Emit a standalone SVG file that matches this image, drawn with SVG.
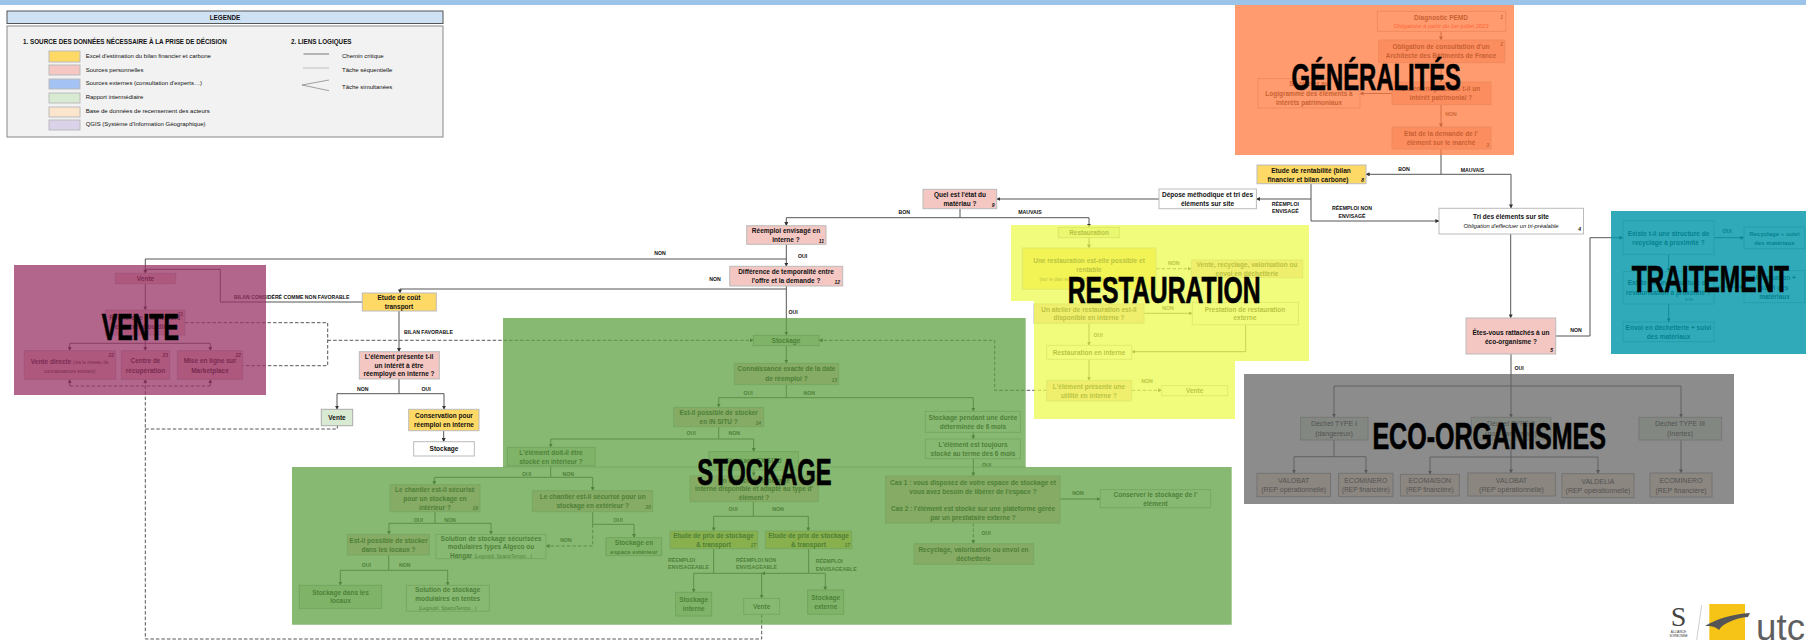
<svg xmlns="http://www.w3.org/2000/svg" width="1806" height="640" viewBox="0 0 1806 640">
<defs>
<marker id="a" markerUnits="userSpaceOnUse" markerWidth="4" markerHeight="4" refX="3.6" refY="2" orient="auto"><path d="M0,0L4,2L0,4z" fill="#333"/></marker>
</defs>
<style>
text{font-family:"Liberation Sans",Arial,sans-serif;fill:#111}
.t{font-size:6.5px;font-weight:700;text-anchor:middle}
.r{font-size:7px;font-weight:400;text-anchor:middle}
.s{font-size:4.8px;font-weight:400;text-anchor:middle}
.n{font-size:5px;font-style:italic;font-weight:700;text-anchor:end}
.i{font-size:5.8px;font-style:italic;font-weight:400;text-anchor:middle}
.l{font-size:5.2px;font-weight:700;text-anchor:middle}
.ls{font-size:5.2px;font-weight:700;text-anchor:start}
.g{font-size:6px;font-weight:400}
.h{font-size:6.3px;font-weight:700}
.H{font-family:"Liberation Sans Narrow","Liberation Sans",Arial,sans-serif;font-size:37px;font-weight:700;fill:#000;stroke:#000;stroke-width:.7px}
rect.w{fill:#fff;stroke:#bbb;stroke-width:1}
rect.p{fill:#f4c7c3;stroke:#bbb;stroke-width:1}
rect.y{fill:#ffd966;stroke:#bbb;stroke-width:1}
rect.v{fill:#d9ead3;stroke:#aaa;stroke-width:1}
rect.o{fill:#fce5cd;stroke:#999;stroke-width:1}
.c path{fill:none;stroke:#555;stroke-width:1}
.c .e{marker-end:url(#a)}
.c .d{stroke-dasharray:3.5 2;stroke:#444;stroke-width:.9}
</style>

<rect id="top-bar" x="0" y="0" width="1806" height="5" fill="#9cc3e8"/>

<g id="legend">
<rect x="7" y="11" width="436" height="12.5" fill="#cfe2f3" stroke="#555" stroke-width="1"/>
<text class="h" x="225" y="20" text-anchor="middle">LEGENDE</text>
<rect x="7" y="26" width="436" height="111" fill="#f2f2f2" stroke="#888" stroke-width="1"/>
<text class="h" x="23" y="44.2">1. SOURCE DES DONNÉES NÉCESSAIRE À LA PRISE DE DÉCISION</text>
<rect x="49" y="51" width="31" height="11" fill="#ffd966" stroke="#bbb"/><text class="g" x="85.7" y="57.8">Excel d'estimation du bilan financier et carbone</text>
<rect x="49" y="65" width="31" height="10" fill="#f4c7c3" stroke="#bbb"/><text class="g" x="85.7" y="71.5">Sources personnelles</text>
<rect x="49" y="79" width="31" height="10" fill="#a4c2f4" stroke="#bbb"/><text class="g" x="85.7" y="85.2">Sources externes (consultation d'experts…)</text>
<rect x="49" y="93" width="31" height="10" fill="#d9ead3" stroke="#bbb"/><text class="g" x="85.7" y="99.2">Rapport intermédiaire</text>
<rect x="49" y="107" width="31" height="10" fill="#fce5cd" stroke="#bbb"/><text class="g" x="85.7" y="112.7">Base de données de recensement des acteurs</text>
<rect x="49" y="120" width="31" height="10" fill="#d9d2e9" stroke="#bbb"/><text class="g" x="85.7" y="126.2">QGIS (Système d'Information Géographique)</text>
<text class="h" x="291" y="44.2">2. LIENS LOGIQUES</text>
<path d="M303.5,54H329" stroke="#444" stroke-width=".7" fill="none"/>
<path d="M303.5,68H329" stroke="#777" stroke-width=".8" stroke-dasharray="1 1" fill="none"/>
<path d="M329,80L302,85L329,90.7" stroke="#666" stroke-width=".6" fill="none"/>
<text class="g" x="342" y="57.9">Chemin critique</text>
<text class="g" x="342" y="71.5">Tâche séquentielle</text>
<text class="g" x="342" y="88.9">Tâche simultanées</text>
</g>

<g id="connectors" class="c">
<path class="e" d="M1441,31V40"/><path class="e" d="M1441,62.7V82"/><path class="e" d="M1392,93.5H1360"/><path class="e" d="M1441,104.7V127"/>
<path class="e" d="M1441,149V174.3H1366"/><path class="e" d="M1441,174.3H1511V208"/>
<path class="e" d="M1311,183.7V199H1256.4"/><path class="e" d="M1311,199V221H1439"/>
<path class="e" d="M1159,199H996.7"/>
<path class="e" d="M960,208.7V217.7H786.3V225.7"/><path class="e" d="M960,217.7H1089V227.3"/>
<path class="e" d="M786.3,244.3V266.3"/><path class="e" d="M786.3,259H145.3V273.3"/>
<path class="e" d="M786.3,289H400V293"/><path class="e" d="M786.3,286V335.3"/>
<path class="e" d="M362.3,302H220.3V269.3H145.3V273.3"/>
<path class="e" d="M399,311V351.7"/><path class="e" d="M399,379V393.7H337V409.3"/><path class="e" d="M399,393.7H444V409.3"/><path class="e" d="M443.7,430.7V441.7"/>
<path class="e" d="M145.3,283.7V310"/><path class="e" d="M145.3,335V343.3H69.7V350.7"/><path class="e" d="M145.3,343.3V350.7"/><path class="e" d="M145.3,343.3H210.3V350.7"/>
<path class="d e" d="M69.7,386V379.3"/><path class="d e" d="M210.3,386V379.3"/><path class="d" d="M69.7,386H210.3"/>
<path class="d e" d="M761.7,614.3V639H145.3V379.3"/>
<path class="d" d="M145.3,429H337.3V425.7"/>
<path class="d" d="M185,322.7H327.7V365.7H242.7"/>
<path class="d e" d="M327.7,340.3H753.3"/>
<path class="e" d="M786.3,345.7V363.3"/><path class="e" d="M786.3,384.7V397.7H718.7V407.3"/><path class="e" d="M786.3,397.7H973.3V411.3"/>
<path class="e" d="M718.7,426.7V439H550.7V447.3"/><path class="e" d="M718.7,439H753.7V451.7"/>
<path class="e" d="M753.7,470V476"/><path class="e" d="M753.3,501.7V516.3H713.7V531"/><path class="e" d="M753.3,516.3H808.3V531"/>
<path class="e" d="M713.7,548.7V573.3H693.7V592.3"/><path class="e" d="M713.7,573.3H761.7V598.3"/><path class="e" d="M808.7,548.7V573.3H761.7"/><path class="e" d="M808.7,573.3H825.3V590"/>
<path class="e" d="M550.7,465.7V477.3H434.3V484.7"/><path class="e" d="M550.7,477.3H592.7V490.7"/>
<path class="e" d="M435,511.7V523.3H389V534.3"/><path class="e" d="M435,523.3H491V534.3"/>
<path class="e" d="M592.7,511.7V524.3H634V537.7"/><path class="d e" d="M592.7,524.3V546H546"/>
<path class="e" d="M388.7,555V570.3H340.3V585.3"/><path class="e" d="M388.7,570.3H447.7V585.3"/>
<path class="e" d="M973.3,432.3V439"/><path class="e" d="M973.3,458.7V476"/><path class="e" d="M1060,499H1100.3"/><path class="d e" d="M973.3,523V543.7"/>
<path class="e" d="M1089,237.7V248"/><path class="d e" d="M1156,268.7H1191.3"/><path class="e" d="M1089,289.3V304"/><path class="e" d="M1144,313.3H1192.3"/>
<path class="e" d="M1089,323.3V345.3"/><path class="e" d="M1245.7,324.7V351.7H1131.7"/><path class="e" d="M1089,359.3V380.3"/>
<path class="d e" d="M1131.7,390.3H1161.7"/><path class="d e" d="M1046.7,390.3H994.7V340.3H819"/>
<path class="e" d="M1510.7,234V318"/><path class="e" d="M1555.7,336H1590V237.7H1623"/>
<path class="e" d="M1714,237.7H1744"/><path class="e" d="M1668.7,254.3V271.7"/><path class="e" d="M1714,287H1744"/><path class="e" d="M1668.7,304V322"/>
<path class="e" d="M1511,354V417.3"/><path class="e" d="M1511,386H1334V417.3"/><path class="e" d="M1511,386H1681V417.3"/>
<path class="e" d="M1334,440V456.7H1294V473.3"/><path class="e" d="M1334,456.7H1366V473.3"/>
<path class="e" d="M1511,440V473"/><path class="e" d="M1511,457H1430V474.3"/><path class="e" d="M1511,457H1598V473.7"/>
<path class="e" d="M1681,440V473"/>
</g>

<g id="n-diagnostic"><rect class="w" x="1377.4" y="11.3" width="128.4" height="20"/><text class="t" x="1441" y="19.5">Diagnostic PEMD</text><text class="i" x="1441" y="28" style="fill:#f22">Obligatoire à partir du 1er juillet 2023</text><text class="n" x="1503" y="19">1</text></g>
<g id="n-abf"><rect class="p" x="1378.6" y="40" width="126.4" height="22.7"/><text class="t" x="1441" y="49">Obligation de consultation d'un</text><text class="t" x="1441" y="58">Architecte des Bâtiments de France</text><text class="n" x="1503" y="46">2</text></g>
<g id="n-interet"><rect class="p" x="1392" y="82" width="99" height="22.7"/><text class="t" x="1441" y="91">L'élément présente t-il un</text><text class="t" x="1441" y="100">intérêt patrimonial ?</text></g>
<g id="n-referer"><rect class="w" x="1258" y="78.7" width="102" height="29.3"/><text class="t" x="1309" y="86">Se référer au</text><text class="t" x="1309" y="95.5">Logigramme des éléments à</text><text class="t" x="1309" y="104.5">intérêts patrimoniaux</text></g>
<g id="n-etat"><rect class="p" x="1392" y="127" width="99" height="22"/><text class="t" x="1441" y="136">Etat de la demande de l'</text><text class="t" x="1441" y="145">élément sur le marché</text><text class="n" x="1489" y="147">3</text></g>
<g id="n-rentabilite"><rect class="y" x="1257" y="165" width="109" height="18.7"/><text class="t" x="1311" y="172.5">Etude de rentabilité (bilan</text><text class="t" x="1308" y="181.5">financier et bilan carbone)</text><text class="n" x="1364" y="181.5">8</text></g>
<g id="n-depose"><rect class="w" x="1159" y="189" width="97.4" height="19.7"/><text class="t" x="1207.5" y="197">Dépose méthodique et tri des</text><text class="t" x="1207.5" y="206">éléments sur site</text></g>
<g id="n-tri"><rect class="w" x="1439" y="208.3" width="144.5" height="25.7"/><text class="t" x="1511" y="219">Tri des éléments sur site</text><text class="i" x="1511" y="228">Obligation d'effectuer un tri-préalable</text><text class="n" x="1581" y="230.5">4</text></g>
<g id="n-eco"><rect class="p" x="1466" y="318" width="89.7" height="36"/><text class="t" x="1511" y="334.5">Êtes-vous rattachés à un</text><text class="t" x="1511" y="343.5">éco-organisme ?</text><text class="n" x="1553" y="351.5">5</text></g>
<g id="n-recycl-q"><rect class="w" x="1623" y="220.7" width="91" height="33.6"/><text class="t" x="1668.5" y="235.5">Existe t-il une structure de</text><text class="t" x="1668.5" y="244.5">recyclage à proximité ?</text></g>
<g id="n-recycl"><rect class="w" x="1744" y="227" width="60.7" height="21.7"/><text class="t" x="1774.5" y="235.5" style="font-size:6px">Recyclage + suivi</text><text class="t" x="1774.5" y="244.5" style="font-size:6px">des matériaux</text></g>
<g id="n-valo-q"><rect class="w" x="1623" y="271.7" width="91" height="32.3"/><text class="t" x="1668.5" y="285">Existe t-il une structure de</text><text class="t" x="1668.5" y="295">revalorisation à proximité ?</text><text class="s" x="1689" y="301" style="font-size:3.5px">NON</text></g>
<g id="n-valo"><rect class="w" x="1744" y="270.7" width="60.7" height="32"/><text class="t" x="1774.5" y="280">Valorisation +</text><text class="t" x="1774.5" y="289.5">suivi des</text><text class="t" x="1774.5" y="298.5">matériaux</text></g>
<g id="n-dechetterie"><rect class="w" x="1623" y="322" width="91" height="19.7"/><text class="t" x="1668.5" y="330">Envoi en déchetterie + suivi</text><text class="t" x="1668.5" y="339">des matériaux</text></g>

<g id="n-typeI"><rect class="v" x="1300.7" y="417.3" width="67.3" height="22.7"/><text class="r" x="1334" y="426">Déchet TYPE I</text><text class="r" x="1334" y="435.5">(dangereux)</text></g>
<g id="n-typeII"><rect class="v" x="1471.4" y="417.3" width="79.6" height="22.7"/><text class="r" x="1511" y="426">Déchet TYPE II</text><text class="r" x="1511" y="435.5">(non-dangereux)</text></g>
<g id="n-typeIII"><rect class="v" x="1639" y="417.3" width="82.7" height="22.7"/><text class="r" x="1680" y="426">Déchet TYPE III</text><text class="r" x="1680" y="435.5">(Inertes)</text></g>
<g id="n-valobat1"><rect class="o" x="1257" y="473.3" width="73.5" height="23.4"/><text class="r" x="1293.7" y="483">VALOBAT</text><text class="r" x="1293.7" y="492">(REP opérationnelle)</text></g>
<g id="n-ecominero1"><rect class="o" x="1338.6" y="473.3" width="54.4" height="23.4"/><text class="r" x="1365.8" y="483">ECOMINERO</text><text class="r" x="1365.8" y="492" style="font-size:6.5px">(REP financière)</text></g>
<g id="n-ecomaison"><rect class="o" x="1400.4" y="474.3" width="58.9" height="21.7"/><text class="r" x="1429.8" y="482.5">ECOMAISON</text><text class="r" x="1429.8" y="491.5" style="font-size:6.5px">(REP financière)</text></g>
<g id="n-valobat2"><rect class="o" x="1467.8" y="473" width="87.6" height="23"/><text class="r" x="1511.5" y="482.5">VALOBAT</text><text class="r" x="1511.5" y="491.5">(REP opérationnelle)</text></g>
<g id="n-valdelia"><rect class="o" x="1562" y="473.7" width="72" height="24"/><text class="r" x="1598" y="483.5">VALDELIA</text><text class="r" x="1598" y="492.5">(REP opérationnelle)</text></g>
<g id="n-ecominero2"><rect class="o" x="1650" y="473" width="62" height="24"/><text class="r" x="1681" y="483">ECOMINERO</text><text class="r" x="1681" y="492.5">(REP financière)</text></g>

<g id="n-restauration"><rect class="v" x="1058.3" y="227.3" width="61" height="10.4"/><text class="t" x="1089" y="235">Restauration</text></g>
<g id="n-resto-q"><rect class="y" x="1022.3" y="248" width="133.7" height="41.3"/><text class="t" x="1089" y="262.5">Une restauration est-elle possible et</text><text class="t" x="1089" y="271.5">rentable</text><text class="s" x="1089" y="280.5">(sur le plan économique et environnemental ?)</text></g>
<g id="n-vente-recyc"><rect class="p" x="1191.3" y="260" width="111.4" height="17.7"/><text class="t" x="1247" y="267">Vente, recyclage, valorisation ou</text><text class="t" x="1247" y="275.5">envoi en déchetterie</text></g>
<g id="n-atelier"><rect class="p" x="1034" y="304" width="110" height="19.3"/><text class="t" x="1089" y="311.5">Un atelier de restauration est-il</text><text class="t" x="1089" y="320">disponible en interne ?</text></g>
<g id="n-prestation"><rect class="w" x="1192.3" y="302.3" width="106" height="22.4"/><text class="t" x="1245" y="311.5">Prestation de restauration</text><text class="t" x="1245" y="320">externe</text></g>
<g id="n-resto-int"><rect class="w" x="1046.7" y="345.3" width="85" height="14"/><text class="t" x="1089" y="354.5">Restauration en interne</text></g>
<g id="n-utilite"><rect class="p" x="1046.7" y="380.3" width="85" height="20.7"/><text class="t" x="1089" y="388.5">L'élément présente une</text><text class="t" x="1089" y="397.5">utilité en interne ?</text></g>
<g id="n-vente-r"><rect class="w" x="1161.7" y="385.7" width="66" height="10"/><text class="t" x="1194.7" y="393">Vente</text></g>

<g id="n-quel"><rect class="p" x="923" y="189.3" width="73.7" height="19.4"/><text class="t" x="960" y="196.8">Quel est l'état du</text><text class="t" x="960" y="206">matériau ?</text><text class="n" x="994.5" y="206.5">9</text></g>
<g id="n-reemploi"><rect class="p" x="746.7" y="225.7" width="79.3" height="18.6"/><text class="t" x="786" y="233">Réemploi envisagé en</text><text class="t" x="786" y="242">interne ?</text><text class="n" x="824" y="242.5">11</text></g>
<g id="n-diff"><rect class="p" x="729.7" y="266.3" width="113" height="19.7"/><text class="t" x="786" y="273.8">Différence de temporalité entre</text><text class="t" x="786" y="283">l'offre et la demande ?</text><text class="n" x="840" y="284">12</text></g>
<g id="n-cout"><rect class="y" x="362.3" y="293" width="74" height="18"/><text class="t" x="399" y="299.5">Etude de coût</text><text class="t" x="399" y="308.5">transport</text></g>
<g id="n-interet2"><rect class="p" x="359.3" y="351.7" width="80" height="27.3"/><text class="t" x="399" y="359">L'élément présente t-il</text><text class="t" x="399" y="367.5">un intérêt à être</text><text class="t" x="399" y="376">réemployé en interne ?</text></g>
<g id="n-vente-v"><rect class="v" x="321.3" y="409.3" width="31.4" height="16.4"/><text class="t" x="337" y="420">Vente</text></g>
<g id="n-conservation"><rect class="y" x="408.7" y="409.3" width="70.3" height="21.4"/><text class="t" x="444" y="417.5">Conservation pour</text><text class="t" x="444" y="426.5">réemploi en interne</text></g>
<g id="n-stockage-w"><rect class="w" x="413.7" y="441.7" width="60.6" height="14.3"/><text class="t" x="444" y="451">Stockage</text></g>

<g id="n-vente"><rect class="p" x="115.3" y="273.3" width="60.4" height="10.4"/><text class="t" x="145.5" y="281">Vente</text></g>
<g id="n-vente-choix"><rect class="p" x="105.3" y="310" width="79.7" height="25"/><text class="t" x="145" y="320">Recherche d'acheteurs</text><text class="t" x="145" y="329">en interne ou direct</text><text class="n" x="183" y="316">21</text></g>
<g id="n-vente-directe"><rect class="p" x="24.3" y="350.7" width="91.4" height="28.6"/><text class="t" x="69.7" y="363.5">Vente directe <tspan class="s">(via le réseau de</tspan></text><text class="s" x="69.7" y="372.5">connaissances existant)</text><text class="n" x="114" y="357">22</text></g>
<g id="n-centre"><rect class="p" x="121.3" y="350.7" width="48.4" height="28.6"/><text class="t" x="145.5" y="363">Centre de</text><text class="t" x="145.5" y="372.5">récupération</text><text class="n" x="168" y="357">23</text></g>
<g id="n-marketplace"><rect class="p" x="177.3" y="350.7" width="65.4" height="28.6"/><text class="t" x="210" y="363">Mise en ligne sur</text><text class="t" x="210" y="372.5">Marketplace</text><text class="n" x="241" y="357">22</text></g>

<g id="n-stockage"><rect class="v" x="753.3" y="335.3" width="65.7" height="10.4"/><text class="t" x="786" y="343">Stockage</text></g>
<g id="n-connaissance"><rect class="p" x="734.3" y="363.3" width="104.4" height="21.4"/><text class="t" x="786.5" y="371">Connaissance exacte de la date</text><text class="t" x="786.5" y="380.5">de réemploi ?</text><text class="n" x="837" y="382">13</text></g>
<g id="n-insitu"><rect class="p" x="673.7" y="407.3" width="90" height="19.4"/><text class="t" x="718.7" y="415">Est-il possible de stocker</text><text class="t" x="718.7" y="424">en IN SITU ?</text><text class="n" x="761" y="424.5">14</text></g>
<g id="n-pendant"><rect class="w" x="925.3" y="411.3" width="95" height="21"/><text class="t" x="973" y="419.5">Stockage pendant une durée</text><text class="t" x="973" y="428.5">déterminée de 6 mois</text></g>
<g id="n-toujours"><rect class="w" x="925.3" y="439" width="95" height="19.7"/><text class="t" x="973" y="446.5">L'élément est toujours</text><text class="t" x="973" y="455.5">stocké au terme des 6 mois</text></g>
<g id="n-cas"><rect class="p" x="885.7" y="476" width="174.3" height="47"/><text class="t" x="973" y="484.5">Cas 1 : vous disposez de votre espace de stockage et</text><text class="t" x="973" y="493.5">vous avez besoin de libérer de l'espace ?</text><text class="t" x="973" y="510.5">Cas 2 : l'élément est stocké sur une plateforme gérée</text><text class="t" x="973" y="519.5">par un prestataire externe ?</text></g>
<g id="n-conserver"><rect class="w" x="1100.3" y="489.7" width="110.4" height="18"/><text class="t" x="1155.5" y="497">Conserver le stockage de l'</text><text class="t" x="1155.5" y="505.5">élément</text></g>
<g id="n-recyclage-s"><rect class="p" x="914" y="543.7" width="119.7" height="20.6"/><text class="t" x="973.5" y="552">Recyclage, valorisation ou envoi en</text><text class="t" x="973.5" y="560.5">déchetterie</text></g>
<g id="n-interieur"><rect class="v" x="507.3" y="447.3" width="87.7" height="18.4"/><text class="t" x="551" y="454.5">L'élément doit-il être</text><text class="t" x="551" y="463.5">stocké en intérieur ?</text></g>
<g id="n-exsitu"><rect class="v" x="709" y="451.7" width="89.3" height="18.3"/><text class="t" x="753.7" y="462.5">Stockage EX SITU</text></g>
<g id="n-espace"><rect class="p" x="690" y="476" width="128.3" height="25.7"/><text class="t" x="754" y="482.5">Un espace de stockage</text><text class="t" x="754" y="491">interne disponible et adapté au type d'</text><text class="t" x="754" y="499.5">élément ?</text></g>
<g id="n-prix1"><rect class="y" x="670" y="531" width="87.7" height="17.7"/><text class="t" x="713.5" y="537.8">Etude de prix de stockage</text><text class="t" x="713.5" y="546.5">&amp; transport</text><text class="n" x="756" y="546.5">17</text></g>
<g id="n-prix2"><rect class="y" x="765.3" y="531" width="86.4" height="17.7"/><text class="t" x="808.5" y="537.8">Etude de prix de stockage</text><text class="t" x="808.5" y="546.5">&amp; transport</text><text class="n" x="850" y="546.5">17</text></g>
<g id="n-st-interne"><rect class="v" x="675.7" y="592.3" width="36" height="23.7"/><text class="t" x="693.7" y="602">Stockage</text><text class="t" x="693.7" y="610.5">interne</text></g>
<g id="n-vente-s"><rect class="w" x="743.7" y="598.3" width="36" height="16"/><text class="t" x="761.7" y="608.5">Vente</text></g>
<g id="n-st-externe"><rect class="v" x="807.7" y="590" width="36" height="24.3"/><text class="t" x="825.7" y="600">Stockage</text><text class="t" x="825.7" y="609">externe</text></g>
<g id="n-ch-int"><rect class="p" x="390" y="484.7" width="90" height="27"/><text class="t" x="435" y="491.5">Le chantier est-il sécurisé</text><text class="t" x="435" y="500.5">pour un stockage en</text><text class="t" x="435" y="509.5">intérieur ?</text><text class="n" x="478" y="509.5">19</text></g>
<g id="n-ch-ext"><rect class="p" x="532.3" y="490.7" width="120.4" height="21"/><text class="t" x="592.7" y="498.5">Le chantier est-il sécurisé pour un</text><text class="t" x="592.7" y="507.5">stockage en extérieur ?</text><text class="n" x="651" y="509">20</text></g>
<g id="n-locaux"><rect class="p" x="347.3" y="534.3" width="82" height="20.7"/><text class="t" x="388.5" y="542.5">Est-il possible de stocker</text><text class="t" x="388.5" y="551.5">dans les locaux ?</text></g>
<g id="n-modulaire"><rect class="w" x="436" y="534.3" width="110" height="24.4"/><text class="t" x="491" y="540.5">Solution de stockage sécurisées</text><text class="t" x="491" y="549">modulaires types Algeco ou</text><text class="t" x="491" y="557.5">Hangar <tspan class="s">(Legoupil, SpacioTempo…)</tspan></text></g>
<g id="n-st-ext"><rect class="v" x="606" y="537.7" width="55.7" height="18"/><text class="t" x="634" y="544.8">Stockage en</text><text class="t" x="634" y="553.5" style="font-size:6px">espace extérieur</text></g>
<g id="n-st-locaux"><rect class="v" x="299.3" y="585.3" width="82.4" height="23"/><text class="t" x="340.5" y="594.5">Stockage dans les</text><text class="t" x="340.5" y="603">locaux</text></g>
<g id="n-tentes"><rect class="w" x="406.3" y="585.3" width="83" height="26"/><text class="t" x="447.7" y="592">Solution de stockage</text><text class="t" x="447.7" y="601">modulaires en tentes</text><text class="s" x="447.7" y="609.5">(Legoupil, SpacioTempo…)</text></g>

<g id="labels">
<text class="l" x="1404" y="171">BON</text><text class="l" x="1472.5" y="172">MAUVAIS</text>
<text class="l" x="1285.4" y="205.5">RÉEMPLOI</text><text class="l" x="1285.4" y="213">ENVISAGÉ</text>
<text class="l" x="1352" y="210">RÉEMPLOI NON</text><text class="l" x="1352" y="217.5">ENVISAGÉ</text>
<text class="l" x="1451" y="115.5" style="fill:#333">NON</text>
<text class="l" x="904.3" y="213.5">BON</text><text class="l" x="1030" y="214">MAUVAIS</text>
<text class="l" x="660" y="254.5">NON</text><text class="l" x="802.7" y="258">OUI</text><text class="l" x="715" y="280.5">NON</text><text class="l" x="793" y="314">OUI</text>
<text class="l" x="291.7" y="299">BILAN CONSIDÉRÉ COMME NON FAVORABLE</text>
<text class="l" x="428.5" y="333.5">BILAN FAVORABLE</text>
<text class="l" x="362.7" y="390.5">NON</text><text class="l" x="426" y="390.5">OUI</text>
<text class="l" x="1576" y="332">NON</text><text class="l" x="1519" y="369.5">OUI</text><text class="l" x="1727" y="233">OUI</text>
<text class="l" x="1173.7" y="265">NON</text><text class="l" x="1168" y="309.5">NON</text><text class="l" x="1098" y="337">OUI</text><text class="l" x="1147" y="382.5">NON</text>
<text class="l" x="748" y="395">OUI</text><text class="l" x="809.3" y="395">NON</text><text class="l" x="691" y="435">OUI</text><text class="l" x="734.3" y="435">NON</text>
<text class="l" x="526.7" y="475.5">OUI</text><text class="l" x="568.3" y="475.5">NON</text><text class="l" x="733" y="511">OUI</text><text class="l" x="778" y="511">NON</text>
<text class="l" x="418.3" y="522">OUI</text><text class="l" x="450" y="522">NON</text><text class="l" x="618" y="522">OUI</text><text class="l" x="566" y="541.5">NON</text>
<text class="l" x="366.3" y="567">OUI</text><text class="l" x="404.7" y="567">NON</text>
<text class="l" x="986.7" y="467">OUI</text><text class="l" x="1078" y="495">NON</text><text class="l" x="986" y="535">OUI</text>
<text class="ls" x="668" y="561.5">RÉEMPLOI</text><text class="ls" x="668" y="568.5">ENVISAGEABLE</text>
<text class="ls" x="736" y="561.5">RÉEMPLOI NON</text><text class="ls" x="736" y="568.5">ENVISAGEABLE</text>
<text class="ls" x="815.7" y="563">RÉEMPLOI</text><text class="ls" x="815.7" y="570.5">ENVISAGEABLE</text>
</g>

<g id="panels">
<rect x="1235" y="5" width="279" height="150" fill="#ff793d" fill-opacity=".75"/>
<path d="M1011,225H1309V361H1235V419H1034V301H1011z" fill="#edfb50" fill-opacity=".75"/>
<path d="M503,318H1025.7V467H1231.7V624.7H292V467H503z" fill="#60a144" fill-opacity=".75"/>
<path d="M503,467H1025.7" stroke="#6fa55a" stroke-width=".8" fill="none"/>
<rect x="14" y="265" width="252" height="130" fill="#983365" fill-opacity=".75"/>
<rect x="1611" y="211" width="195" height="143" fill="#0297a8" fill-opacity=".82"/>
<rect x="1244" y="374" width="490" height="130" fill="#656565" fill-opacity=".75"/>
</g>

<g id="titles">
<text class="H" x="1291.6" y="90" textLength="169.4" lengthAdjust="spacingAndGlyphs">GÉNÉRALITÉS</text>
<text class="H" x="1067.7" y="302.7" textLength="193" lengthAdjust="spacingAndGlyphs">RESTAURATION</text>
<text class="H" x="1631.7" y="291.7" textLength="157.3" lengthAdjust="spacingAndGlyphs">TRAITEMENT</text>
<text class="H" x="101.7" y="340" textLength="77.3" lengthAdjust="spacingAndGlyphs">VENTE</text>
<text class="H" x="697.3" y="485.3" textLength="134.4" lengthAdjust="spacingAndGlyphs">STOCKAGE</text>
<text class="H" x="1372.4" y="449" textLength="233.6" lengthAdjust="spacingAndGlyphs">ECO-ORGANISMES</text>
</g>

<g id="logo">
<text x="1678.5" y="626" text-anchor="middle" style="font-family:'Liberation Serif',serif;font-size:28px;fill:#444">S</text>
<text x="1678.5" y="632.5" text-anchor="middle" style="font-size:3.2px;fill:#333">ALLIANCE</text>
<text x="1678.5" y="637" text-anchor="middle" style="font-size:3.2px;fill:#333">SORBONNE</text>
<path d="M1701.7,605L1696.7,640" stroke="#bbb" stroke-width=".7" fill="none"/>
<rect x="1709.3" y="604" width="35.7" height="36" fill="#f6c416"/>
<path d="M1705,626C1716,619 1733,614 1750,613L1748,617C1735,618 1722,624 1719,630C1715,626 1710,626 1705,626z" fill="#555"/>
<text x="1756" y="639.5" textLength="49" lengthAdjust="spacingAndGlyphs" style="font-size:36px;fill:#5f5f5f">utc</text>
</g>
</svg>
